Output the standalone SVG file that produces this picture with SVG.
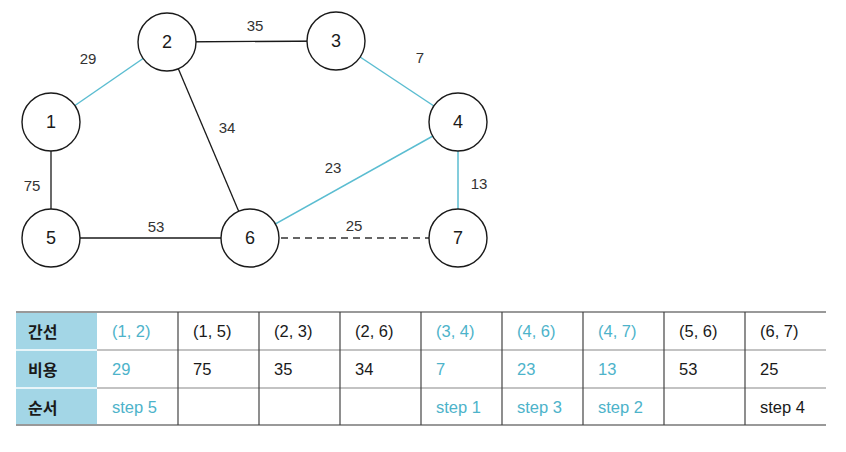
<svg xmlns="http://www.w3.org/2000/svg" width="846" height="452" viewBox="0 0 846 452">
<style>
.node circle{fill:#fff;stroke:#1a1a1a;stroke-width:1.4}
.node text{font-family:"Liberation Sans",Arial,sans-serif;font-size:18px;fill:#1a1a1a;text-anchor:middle;dominant-baseline:central}
.e{stroke:#1a1a1a;stroke-width:1.3;fill:none}
.eb{stroke:#5bbdd1;stroke-width:1.5;fill:none}
.ed{stroke:#333;stroke-width:1.3;stroke-dasharray:7 5;fill:none}
.lbl{font-family:"Liberation Sans",Arial,sans-serif;font-size:15px;fill:#333;text-anchor:middle;dominant-baseline:central}
.t{font-family:"Liberation Sans",Arial,sans-serif;font-size:16.5px;fill:#1a1a1a;dominant-baseline:central}
.tb{font-family:"Liberation Sans",Arial,sans-serif;font-size:16.5px;fill:#4db3ca;dominant-baseline:central}
.th{font-family:"Noto Sans CJK KR","Noto Sans",sans-serif;font-size:16px;font-weight:bold;fill:#1a1a1a;dominant-baseline:central}
.hl{stroke:#888;stroke-width:1.2}
.vl{stroke:#444;stroke-width:1.2}
</style>
<g id="connectors">
<line class="eb" x1="51" y1="122" x2="167" y2="42"/>
<line class="e" x1="167" y1="42" x2="336" y2="41"/>
<line class="eb" x1="336" y1="41" x2="458" y2="122"/>
<line class="e" x1="167" y1="42" x2="250" y2="238"/>
<line class="eb" x1="458" y1="122" x2="250" y2="238"/>
<line class="eb" x1="458" y1="122" x2="458" y2="238"/>
<line class="e" x1="51" y1="122" x2="51" y2="238"/>
<line class="e" x1="51" y1="238" x2="250" y2="238"/>
<line class="ed" x1="281" y1="238" x2="429" y2="238"/>
<text class="lbl" x="88" y="58">29</text>
<text class="lbl" x="255" y="25">35</text>
<text class="lbl" x="420" y="57">7</text>
<text class="lbl" x="227" y="127">34</text>
<text class="lbl" x="333" y="167">23</text>
<text class="lbl" x="479" y="183">13</text>
<text class="lbl" x="32" y="185">75</text>
<text class="lbl" x="156" y="226">53</text>
<text class="lbl" x="354" y="225">25</text>
</g>
<g id="n1" class="node"><circle cx="51" cy="122" r="29"/><text x="51" y="122">1</text></g>
<g id="n2" class="node"><circle cx="167" cy="42" r="29"/><text x="167" y="42">2</text></g>
<g id="n3" class="node"><circle cx="336" cy="41" r="29"/><text x="336" y="41">3</text></g>
<g id="n4" class="node"><circle cx="458" cy="122" r="29"/><text x="458" y="122">4</text></g>
<g id="n5" class="node"><circle cx="51" cy="238" r="29"/><text x="51" y="238">5</text></g>
<g id="n6" class="node"><circle cx="250" cy="238" r="29"/><text x="250" y="238">6</text></g>
<g id="n7" class="node"><circle cx="458" cy="238" r="29"/><text x="458" y="238">7</text></g>
<g id="table">
<rect x="16" y="312" width="81" height="113" fill="#a3d6e6"/>
<line x1="16" y1="350" x2="97" y2="350" stroke="#fff" stroke-width="1.5"/>
<line x1="16" y1="388" x2="97" y2="388" stroke="#fff" stroke-width="1.5"/>
<line class="hl" x1="97" y1="350" x2="826" y2="350"/>
<line class="hl" x1="97" y1="388" x2="826" y2="388"/>
<line x1="16" y1="312" x2="826" y2="312" stroke="#999" stroke-width="2"/>
<line x1="16" y1="425" x2="826" y2="425" stroke="#999" stroke-width="2"/>
<line class="vl" x1="178" y1="312" x2="178" y2="425"/>
<line class="vl" x1="259" y1="312" x2="259" y2="425"/>
<line class="vl" x1="340" y1="312" x2="340" y2="425"/>
<line class="vl" x1="421" y1="312" x2="421" y2="425"/>
<line class="vl" x1="502" y1="312" x2="502" y2="425"/>
<line class="vl" x1="583" y1="312" x2="583" y2="425"/>
<line class="vl" x1="664" y1="312" x2="664" y2="425"/>
<line class="vl" x1="745" y1="312" x2="745" y2="425"/>
<text class="th" x="28" y="331">간선</text>
<text class="th" x="28" y="369">비용</text>
<text class="th" x="28" y="407">순서</text>
<text class="tb" x="112" y="331">(1, 2)</text>
<text class="t" x="193" y="331">(1, 5)</text>
<text class="t" x="274" y="331">(2, 3)</text>
<text class="t" x="355" y="331">(2, 6)</text>
<text class="tb" x="436" y="331">(3, 4)</text>
<text class="tb" x="517" y="331">(4, 6)</text>
<text class="tb" x="598" y="331">(4, 7)</text>
<text class="t" x="679" y="331">(5, 6)</text>
<text class="t" x="760" y="331">(6, 7)</text>
<text class="tb" x="112" y="369">29</text>
<text class="t" x="193" y="369">75</text>
<text class="t" x="274" y="369">35</text>
<text class="t" x="355" y="369">34</text>
<text class="tb" x="436" y="369">7</text>
<text class="tb" x="517" y="369">23</text>
<text class="tb" x="598" y="369">13</text>
<text class="t" x="679" y="369">53</text>
<text class="t" x="760" y="369">25</text>
<text class="tb" x="112" y="407">step 5</text>
<text class="tb" x="436" y="407">step 1</text>
<text class="tb" x="517" y="407">step 3</text>
<text class="tb" x="598" y="407">step 2</text>
<text class="t" x="760" y="407">step 4</text>
</g>
</svg>
